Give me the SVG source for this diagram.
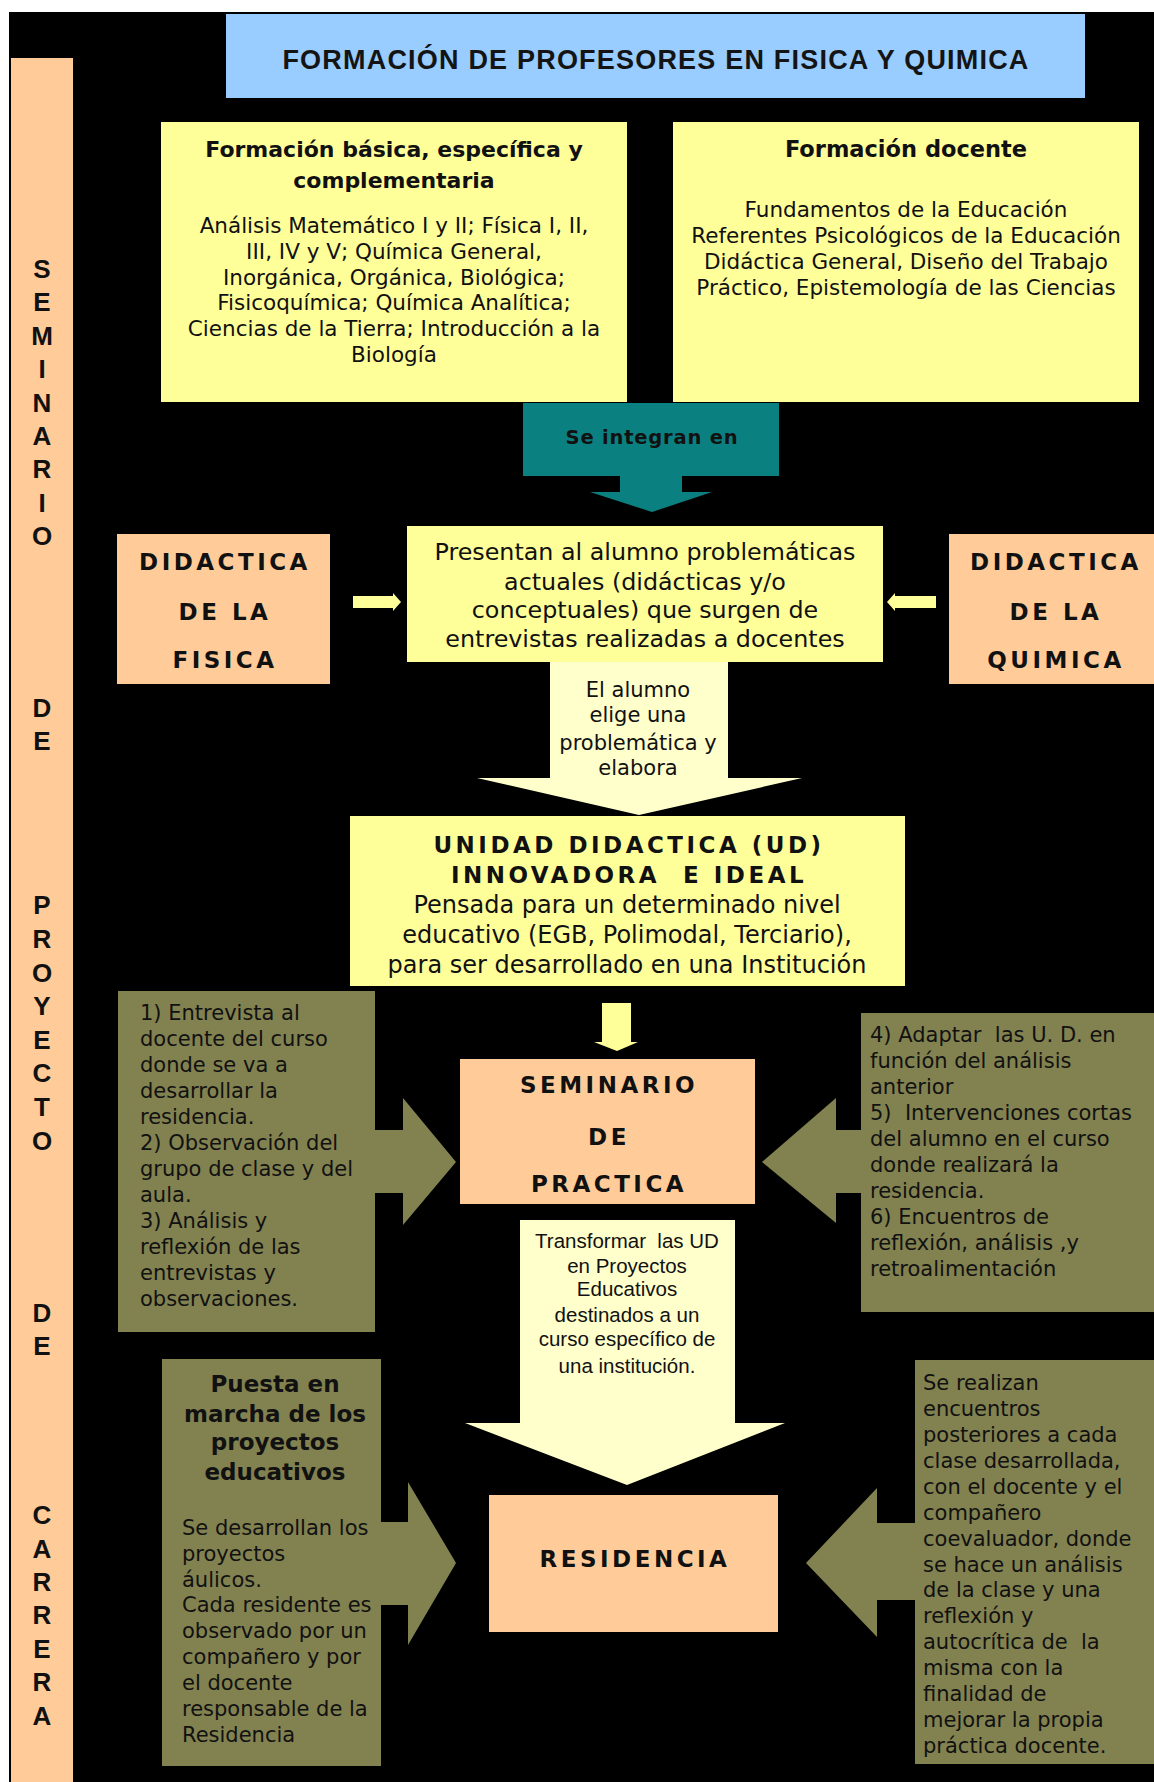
<svg xmlns="http://www.w3.org/2000/svg" width="1154" height="1782" viewBox="0 0 1154 1782">
<style>
.yel{fill:#FFFF99}
.peach{fill:#FFCC99}
.olive{fill:#828250}
.cream{fill:#FFFFCC}
.teal{fill:#0B8080}
.t{font-family:"DejaVu Sans",Verdana,sans-serif;fill:#111}
.b{font-weight:bold}
.c{text-anchor:middle}
.body{font-size:21.5px}
.ol{font-size:21px}
.cap{font-family:"DejaVu Sans",Verdana,sans-serif;font-weight:bold;fill:#111;text-anchor:middle;letter-spacing:3.5px}
.vert{font-family:"Liberation Sans",Arial,sans-serif;font-weight:bold;font-size:26px;fill:#111;text-anchor:middle}
.ar{font-family:"Liberation Sans",Arial,sans-serif;font-size:20.5px;fill:#111;text-anchor:middle}
</style>
<rect x="0" y="0" width="1154" height="1782" fill="#fff"/>
<rect x="9" y="12" width="1145" height="1770" fill="#000"/>

<g id="strip">
<rect x="11" y="58" width="62" height="1724" class="peach"/>
<text class="vert" x="42"><tspan x="42" y="278">S</tspan><tspan x="42" y="311">E</tspan><tspan x="42" y="345">M</tspan><tspan x="42" y="378">I</tspan><tspan x="42" y="412">N</tspan><tspan x="42" y="445">A</tspan><tspan x="42" y="478">R</tspan><tspan x="42" y="512">I</tspan><tspan x="42" y="545">O</tspan><tspan x="42" y="717">D</tspan><tspan x="42" y="750">E</tspan><tspan x="42" y="914">P</tspan><tspan x="42" y="948">R</tspan><tspan x="42" y="982">O</tspan><tspan x="42" y="1015">Y</tspan><tspan x="42" y="1049">E</tspan><tspan x="42" y="1082">C</tspan><tspan x="42" y="1116">T</tspan><tspan x="42" y="1150">O</tspan><tspan x="42" y="1322">D</tspan><tspan x="42" y="1355">E</tspan><tspan x="42" y="1524">C</tspan><tspan x="42" y="1558">A</tspan><tspan x="42" y="1591">R</tspan><tspan x="42" y="1624">R</tspan><tspan x="42" y="1658">E</tspan><tspan x="42" y="1691">R</tspan><tspan x="42" y="1725">A</tspan></text>
</g>

<g id="title">
<rect x="226" y="14" width="859" height="84" fill="#99CCFF"/>
<text x="656" y="69" font-family="Liberation Sans, Arial, sans-serif" font-size="27" font-weight="bold" letter-spacing="1.2" fill="#141414" text-anchor="middle">FORMACIÓN DE PROFESORES EN FISICA Y QUIMICA</text>
</g>

<g id="formacion-basica">
<rect x="161" y="122" width="466" height="280" class="yel"/>
<text class="t b c" font-size="22"><tspan x="394" y="157">Formación básica, específica y</tspan><tspan x="394" y="188">complementaria</tspan></text>
<text class="t c body"><tspan x="394" y="233">Análisis Matemático I y II; Física I, II,</tspan><tspan x="394" y="259">III, IV y V; Química General,</tspan><tspan x="394" y="285">Inorgánica, Orgánica, Biológica;</tspan><tspan x="394" y="310">Fisicoquímica; Química Analítica;</tspan><tspan x="394" y="336">Ciencias de la Tierra; Introducción a la</tspan><tspan x="394" y="362">Biología</tspan></text>
</g>

<g id="formacion-docente">
<rect x="673" y="122" width="466" height="280" class="yel"/>
<text class="t b c" font-size="22.5" x="906" y="157">Formación docente</text>
<text class="t c body"><tspan x="906" y="217">Fundamentos de la Educación</tspan><tspan x="906" y="243">Referentes Psicológicos de la Educación</tspan><tspan x="906" y="269">Didáctica General, Diseño del Trabajo</tspan><tspan x="906" y="295">Práctico, Epistemología de las Ciencias</tspan></text>
</g>

<g id="didactica-fisica">
<rect x="117" y="534" width="213" height="150" class="peach"/>
<text class="cap" font-size="23"><tspan x="225" y="570">DIDACTICA</tspan><tspan x="225" y="620">DE LA</tspan><tspan x="225" y="668">FISICA</tspan></text>
</g>

<g id="didactica-quimica">
<rect x="949" y="534" width="205" height="150" class="peach"/>
<text class="cap" font-size="23"><tspan x="1056" y="570">DIDACTICA</tspan><tspan x="1056" y="620">DE LA</tspan><tspan x="1056" y="668">QUIMICA</tspan></text>
</g>

<g id="problematicas">
<rect x="407" y="526" width="476" height="136" class="yel"/>
<text class="t c" font-size="23.8"><tspan x="645" y="560">Presentan al alumno problemáticas</tspan><tspan x="645" y="590">actuales (didácticas y/o</tspan><tspan x="645" y="618">conceptuales) que surgen de</tspan><tspan x="645" y="647">entrevistas realizadas a docentes</tspan></text>
</g>

<g id="unidad-didactica">
<rect x="350" y="816" width="555" height="170" class="yel"/>
<text class="cap" font-size="23" letter-spacing="3"><tspan x="629" y="853">UNIDAD DIDACTICA (UD)</tspan><tspan x="629" y="883" xml:space="preserve">INNOVADORA  E IDEAL</tspan></text>
<text class="t c" font-size="24"><tspan x="627" y="913">Pensada para un determinado nivel</tspan><tspan x="627" y="943">educativo (EGB, Polimodal, Terciario),</tspan><tspan x="627" y="973">para ser desarrollado en una Institución</tspan></text>
</g>

<g id="seminario-practica">
<rect x="460" y="1059" width="295" height="145" class="peach"/>
<text class="cap" font-size="23"><tspan x="609" y="1093">SEMINARIO</tspan><tspan x="609" y="1145">DE</tspan><tspan x="609" y="1192">PRACTICA</tspan></text>
</g>

<g id="residencia">
<rect x="489" y="1495" width="289" height="137" class="peach"/>
<text class="cap" font-size="23" x="635" y="1567">RESIDENCIA</text>
</g>

<g id="pasos-1-3">
<rect x="118" y="991" width="257" height="341" class="olive"/>
<text class="t ol"><tspan x="140" y="1020">1)  Entrevista al</tspan><tspan x="140" y="1046">docente del curso</tspan><tspan x="140" y="1072">donde se va a</tspan><tspan x="140" y="1098">desarrollar la</tspan><tspan x="140" y="1124">residencia.</tspan><tspan x="140" y="1150">2)  Observación del</tspan><tspan x="140" y="1176">grupo de clase y del</tspan><tspan x="140" y="1202">aula.</tspan><tspan x="140" y="1228">3)  Análisis y</tspan><tspan x="140" y="1254">reflexión de las</tspan><tspan x="140" y="1280">entrevistas y</tspan><tspan x="140" y="1306">observaciones.</tspan></text>
</g>

<g id="pasos-4-6">
<rect x="861" y="1013" width="293" height="299" class="olive"/>
<text class="t ol" xml:space="preserve"><tspan x="870" y="1042">4) Adaptar  las U. D. en</tspan><tspan x="870" y="1068">función del análisis</tspan><tspan x="870" y="1094">anterior</tspan><tspan x="870" y="1120">5)  Intervenciones cortas</tspan><tspan x="870" y="1146">del alumno en el curso</tspan><tspan x="870" y="1172">donde realizará la</tspan><tspan x="870" y="1198">residencia.</tspan><tspan x="870" y="1224">6) Encuentros de</tspan><tspan x="870" y="1250">reflexión, análisis ,y</tspan><tspan x="870" y="1276">retroalimentación</tspan></text>
</g>

<g id="puesta-en-marcha">
<rect x="162" y="1359" width="219" height="407" class="olive"/>
<text class="t b c" font-size="23"><tspan x="275" y="1392">Puesta en</tspan><tspan x="275" y="1422">marcha de los</tspan><tspan x="275" y="1450">proyectos</tspan><tspan x="275" y="1480">educativos</tspan></text>
<text class="t ol"><tspan x="182" y="1535">Se desarrollan los</tspan><tspan x="182" y="1561">proyectos</tspan><tspan x="182" y="1587">áulicos.</tspan><tspan x="182" y="1612">Cada residente es</tspan><tspan x="182" y="1638">observado por un</tspan><tspan x="182" y="1664">compañero y por</tspan><tspan x="182" y="1690">el docente</tspan><tspan x="182" y="1716">responsable de la</tspan><tspan x="182" y="1742">Residencia</tspan></text>
</g>

<g id="encuentros">
<rect x="915" y="1360" width="239" height="404" class="olive"/>
<text class="t ol" xml:space="preserve"><tspan x="923" y="1390">Se realizan</tspan><tspan x="923" y="1416">encuentros</tspan><tspan x="923" y="1442">posteriores a cada</tspan><tspan x="923" y="1468">clase desarrollada,</tspan><tspan x="923" y="1494">con el docente y el</tspan><tspan x="923" y="1520">compañero</tspan><tspan x="923" y="1546">coevaluador, donde</tspan><tspan x="923" y="1572">se hace un análisis</tspan><tspan x="923" y="1597">de la clase y una</tspan><tspan x="923" y="1623">reflexión y</tspan><tspan x="923" y="1649">autocrítica de  la</tspan><tspan x="923" y="1675">misma con la</tspan><tspan x="923" y="1701">finalidad de</tspan><tspan x="923" y="1727">mejorar la propia</tspan><tspan x="923" y="1753">práctica docente.</tspan></text>
</g>

<g id="connectors">
<polygon class="teal" points="523,403 779,403 779,476 682,476 682,492 712,492 652,512 590,492 620,492 620,476 523,476"/>
<text class="t b c" font-size="19.5" letter-spacing="0.8" x="652" y="444" fill="#1a2a2a">Se integran en</text>

<polygon class="yel" points="353,596 393,596 393,593 401,602 393,611 393,608 353,608"/>
<polygon class="yel" points="936,596 895,596 895,593 887,602 895,611 895,608 936,608"/>

<polygon class="cream" points="550,662 728,662 728,778 802,778 639,815 477,778 550,778"/>
<text class="t c" font-size="21"><tspan x="638" y="697">El alumno</tspan><tspan x="638" y="722">elige una</tspan><tspan x="638" y="750">problemática y</tspan><tspan x="638" y="775">elabora</tspan></text>

<polygon class="yel" points="602,1003 631,1003 631,1042 638,1042 617,1051 594,1042 602,1042"/>

<polygon class="olive" points="370,1130 403,1130 403,1098 456,1162 403,1225 403,1193 370,1193"/>
<polygon class="olive" points="866,1130 836,1130 836,1098 762,1162 836,1223 836,1193 866,1193"/>

<polygon class="cream" points="520,1220 735,1220 735,1423 785,1423 627,1485 465,1423 520,1423"/>
<text class="ar" xml:space="preserve"><tspan x="627" y="1248">Transformar  las UD</tspan><tspan x="627" y="1273">en Proyectos</tspan><tspan x="627" y="1296">Educativos</tspan><tspan x="627" y="1322">destinados a un</tspan><tspan x="627" y="1346">curso específico de</tspan><tspan x="627" y="1373">una institución.</tspan></text>

<polygon class="olive" points="376,1522 408,1522 408,1482 456,1563 408,1645 408,1605 376,1605"/>
<polygon class="olive" points="921,1523 877,1523 877,1488 806,1563 877,1637 877,1600 921,1600"/>
</g>
</svg>
